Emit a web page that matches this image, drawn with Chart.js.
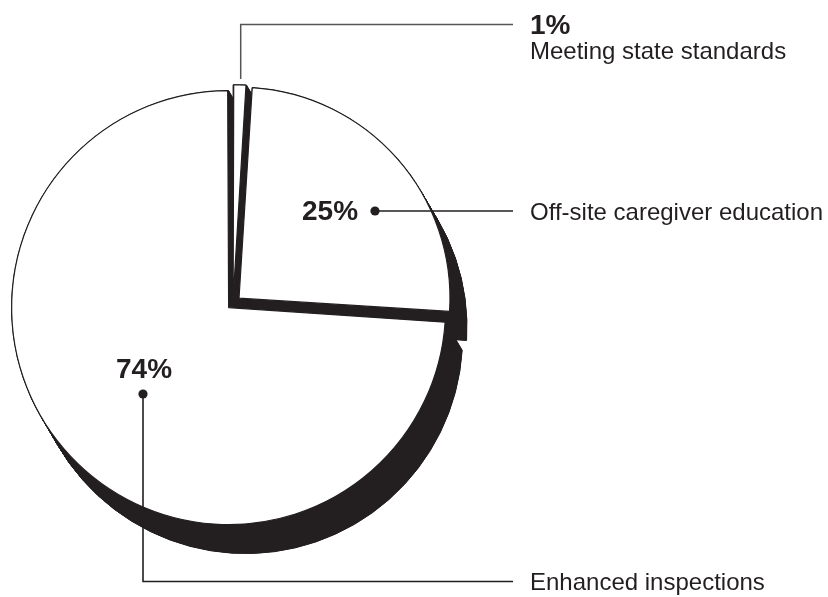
<!DOCTYPE html>
<html><head><meta charset="utf-8">
<script src="https://cdn.jsdelivr.net/npm/chart.js@4/dist/chart.umd.min.js"></script>
<style>html,body{margin:0;padding:0;background:#fff;}#wrap{width:828px;height:597px;position:relative;}</style>
</head><body><div id="wrap"><canvas id="c" width="828" height="597"></canvas></div>
<script>
const categories = ['Meeting state standards', 'Off-site caregiver education', 'Enhanced inspections'];
const shares = [1, 25, 74];
const percentLabels = ['1%', '25%', '74%'];

const INK = '#231f20';
const FONT = '"Liberation Sans", Arial, Helvetica, sans-serif';
const DEPTH_X = 17, DEPTH_Y = 29;

function arcGeom(a) {
  const off = (a.options.offset || 0) / 4;
  const half = (a.startAngle + a.endAngle) / 2;
  const fix = 1 - Math.sin(Math.min(Math.PI, a.circumference || 0));
  return { cx: a.x + Math.cos(half) * off, cy: a.y + Math.sin(half) * off, r: a.outerRadius + off * fix };
}

const extrude = {
  id: 'extrude',
  beforeDatasetsDraw(chart) {
    const ctx = chart.ctx;
    const arcs = chart.getDatasetMeta(0).data;
    const steps = 60;
    ctx.save();
    ctx.fillStyle = INK; ctx.strokeStyle = INK; ctx.lineWidth = 1;
    for (let s = 0; s <= steps; s++) {
      const tx = DEPTH_X * s / steps, ty = DEPTH_Y * s / steps;
      arcs.forEach(a => {
        const g = arcGeom(a);
        ctx.beginPath();
        ctx.moveTo(g.cx + tx, g.cy + ty);
        ctx.arc(g.cx + tx, g.cy + ty, g.r, a.startAngle, a.endAngle);
        ctx.closePath();
        ctx.fill(); ctx.stroke();
      });
    }
    ctx.restore();
  }
};

const callouts = {
  id: 'callouts',
  afterDraw(chart) {
    const ctx = chart.ctx;
    const a0 = chart.getDatasetMeta(0).data[0];
    const ox = a0.x, oy = a0.y;
    const textX = 530, lineEnd = 513;
    ctx.save();
    ctx.lineCap = 'butt';
    // 1% leader
    ctx.strokeStyle = '#555'; ctx.lineWidth = 1.5;
    ctx.beginPath();
    ctx.moveTo(ox + 7.7, 79); ctx.lineTo(ox + 7.7, 24.5); ctx.lineTo(lineEnd, 24.5);
    ctx.stroke();
    // 25% leader
    ctx.strokeStyle = INK; ctx.fillStyle = INK; ctx.lineWidth = 1.6;
    const d25 = { x: ox + 142, y: oy - 92.5 };
    ctx.beginPath(); ctx.moveTo(d25.x, d25.y); ctx.lineTo(lineEnd, d25.y); ctx.stroke();
    ctx.beginPath(); ctx.arc(d25.x, d25.y, 4.6, 0, Math.PI * 2); ctx.fill();
    // 74% leader
    const d74 = { x: ox - 90, y: oy + 90.5 };
    ctx.beginPath(); ctx.moveTo(d74.x, d74.y); ctx.lineTo(d74.x, 581.5); ctx.lineTo(lineEnd, 581.5); ctx.stroke();
    ctx.beginPath(); ctx.arc(d74.x, d74.y, 4.6, 0, Math.PI * 2); ctx.fill();

    ctx.textAlign = 'left'; ctx.textBaseline = 'alphabetic';
    ctx.font = 'bold 28px ' + FONT;
    ctx.fillText(percentLabels[0], textX, 34);
    ctx.fillText(percentLabels[1], d25.x - 73, 220);
    ctx.fillText(percentLabels[2], d74.x - 27, 378);
    ctx.font = '24px ' + FONT;
    ctx.fillText(categories[0], textX, 59);
    ctx.fillText(categories[1], textX, 219.5);
    ctx.fillText(categories[2], textX, 590);
    ctx.restore();
  }
};

new Chart(document.getElementById('c'), {
  type: 'pie',
  data: {
    labels: categories,
    datasets: [{
      data: shares,
      backgroundColor: '#ffffff',
      borderColor: INK,
      borderWidth: 1.2,
      offset: [16, 32, 24],
      clip: false
    }]
  },
  options: {
    responsive: false,
    devicePixelRatio: 1,
    animation: false,
    radius: 211,
    rotation: 0,
    layout: { padding: { left: 0, right: 362, top: 10, bottom: 0 } },
    plugins: { legend: { display: false }, tooltip: { enabled: false } },
    events: []
  },
  plugins: [extrude, callouts]
});
</script>
</body></html>
